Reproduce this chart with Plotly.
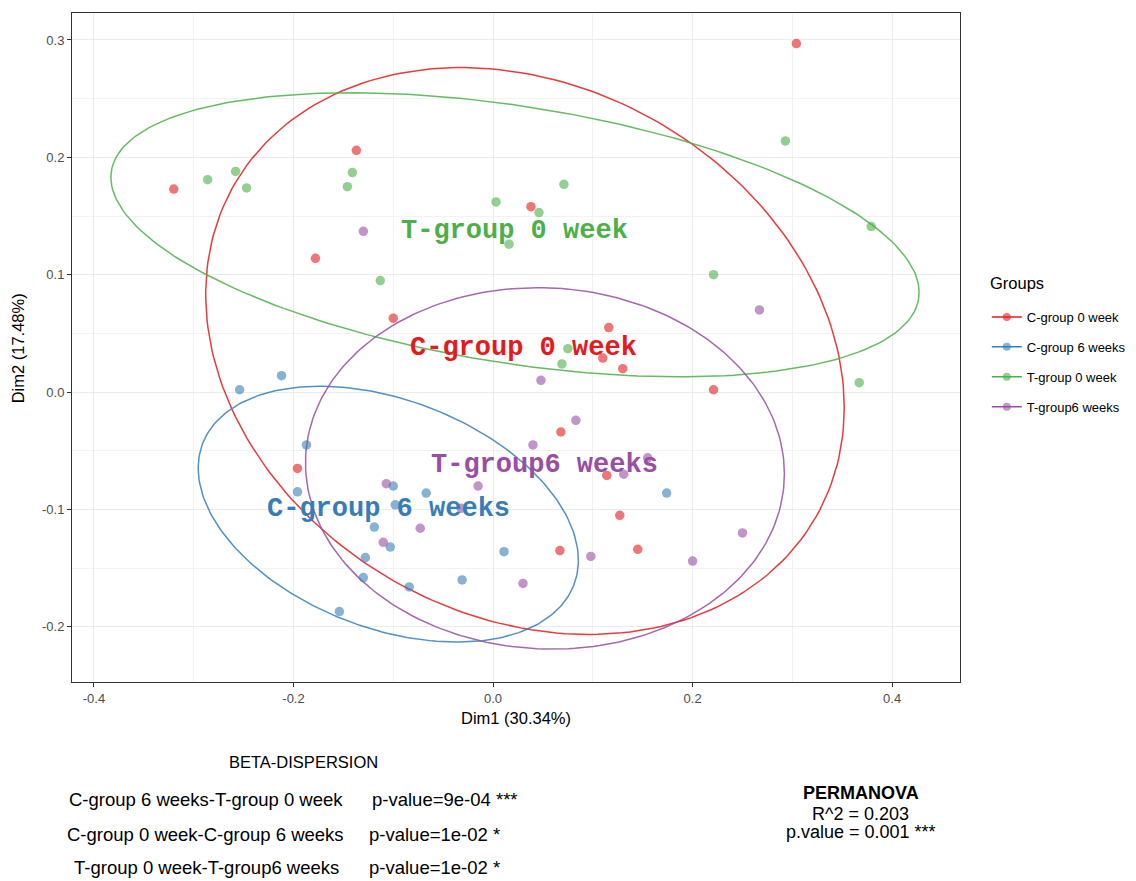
import numpy as np
import plotly.graph_objects as go

# ---------------- data ----------------
groups = ["C-group 0 week", "C-group 6 weeks", "T-group 0 week", "T-group6 weeks"]
colors = ["#E41A1C", "#377EB8", "#4DAF4A", "#984EA3"]

c0_x = [-0.320, -0.137, -0.178, -0.100, 0.038, 0.304, 0.116, 0.110, 0.130, 0.221,
        0.068, -0.196, 0.114, 0.127, 0.067, 0.145]
c0_y = [0.173, 0.206, 0.114, 0.063, 0.158, 0.297, 0.055, 0.029, 0.020, 0.002,
        -0.034, -0.065, -0.071, -0.105, -0.135, -0.134]

c6_x = [-0.254, -0.212, -0.187, -0.196, -0.100, -0.067, -0.098, -0.119, -0.103,
        -0.128, -0.130, -0.084, -0.154, -0.031, 0.011, 0.174]
c6_y = [0.002, 0.014, -0.045, -0.085, -0.080, -0.086, -0.096, -0.115, -0.132,
        -0.141, -0.158, -0.166, -0.187, -0.160, -0.136, -0.086]

t0_x = [-0.286, -0.258, -0.247, -0.141, -0.146, 0.003, 0.016, -0.113, 0.071, 0.046,
        0.293, 0.379, 0.221, 0.075, 0.069, 0.367]
t0_y = [0.181, 0.188, 0.174, 0.187, 0.175, 0.162, 0.126, 0.095, 0.177, 0.153,
        0.214, 0.141, 0.100, 0.037, 0.024, 0.008]

t6_x = [-0.130, 0.267, 0.048, 0.083, 0.040, 0.155, 0.131, 0.250, 0.098, 0.200,
        0.030, -0.107, -0.015, -0.032, -0.073, -0.110]
t6_y = [0.137, 0.070, 0.010, -0.024, -0.045, -0.056, -0.070, -0.120, -0.140, -0.144,
        -0.163, -0.078, -0.080, -0.099, -0.116, -0.128]

xs = [c0_x, c6_x, t0_x, t6_x]
ys = [c0_y, c6_y, t0_y, t6_y]

# ellipse parameters: centre, half-width, half-height, phase cosine
ell_cx = [0.032, -0.105, 0.022, 0.052]
ell_cy = [0.035, -0.104, 0.134, -0.065]
ell_rx = [0.320, 0.1905, 0.405, 0.240]
ell_ry = [0.2415, 0.109, 0.121, 0.154]
ell_c = [-0.20, -0.36, -0.405, -0.03]

# group label positions
lab_x = [0.031, -0.105, 0.021, 0.052]
lab_y = [0.038, -0.100, 0.137, -0.062]

x_ticks = [-0.4, -0.2, 0.0, 0.2, 0.4]
x_ticktext = ["-0.4", "-0.2", "0.0", "0.2", "0.4"]
y_ticks = [-0.2, -0.1, 0.0, 0.1, 0.2, 0.3]
y_ticktext = ["-0.2", "-0.1", "0.0", "0.1", "0.2", "0.3"]

beta_pairs = ["C-group 6 weeks-T-group 0 week", "C-group 0 week-C-group 6 weeks",
              "T-group 0 week-T-group6 weeks"]
beta_p = ["p-value=9e-04 ***", "p-value=1e-02 *", "p-value=1e-02 *"]
perm_lines = ["<b>PERMANOVA</b>", "R^2 = 0.203", "p.value = 0.001 ***"]

# ---------------- figure ----------------
OFF = 8  # page body margin
W, H = 1128, 873
L, R, T, B = 64, 958, 5, 674


def px(xs_):
    return (xs_ - OFF - L) / (R - L)


def py(ys_):
    return (B - (ys_ - OFF)) / (B - T)


fig = go.Figure()
tt = np.linspace(0, 2 * np.pi, 240)
for i, g in enumerate(groups):
    phi = np.arccos(ell_c[i])
    ex = ell_cx[i] + ell_rx[i] * np.cos(tt)
    ey = ell_cy[i] + ell_ry[i] * np.cos(tt - phi)
    fig.add_trace(go.Scatter(x=ex, y=ey, mode="lines", line=dict(color=colors[i], width=1.5),
                             opacity=0.85, showlegend=False, hoverinfo="skip"))
for i, g in enumerate(groups):
    fig.add_trace(go.Scatter(x=xs[i], y=ys[i], mode="markers", name=g, showlegend=False,
                             marker=dict(color=colors[i], size=9.5, opacity=0.6,
                                         line=dict(width=0))))
for i, g in enumerate(groups):
    fig.add_trace(go.Scatter(x=[None], y=[None], mode="lines+markers", name=g,
                             legendgroup=g,
                             line=dict(color=colors[i], width=1.5),
                             marker=dict(color=colors[i], size=8, opacity=0.6)))
    fig.add_annotation(x=lab_x[i], y=lab_y[i], text="<b>%s</b>" % g, showarrow=False,
                       font=dict(family="Liberation Mono", size=27, color=colors[i]))

ann = []
ann.append(dict(x=px(519), y=py(718), text="Dim1 (30.34%)", font=dict(size=16.5, color="black")))
ann.append(dict(x=px(18), y=py(348), text="Dim2 (17.48%)", textangle=-90,
                font=dict(size=16.5, color="black")))
ann.append(dict(x=px(305), y=py(762), text="BETA-DISPERSION", font=dict(size=16.5, color="black")))
row_y = [799, 834, 868]
left_c = [207, 206, 207]
right_c = [448, 437, 437]
for k in range(3):
    ann.append(dict(x=px(left_c[k]), y=py(row_y[k]), text=beta_pairs[k],
                    font=dict(size=18.5, color="black")))
    ann.append(dict(x=px(right_c[k]), y=py(row_y[k]), text=beta_p[k],
                    font=dict(size=18.5, color="black")))
perm_y = [793, 814, 832]
for k in range(3):
    ann.append(dict(x=px(866), y=py(perm_y[k]), text=perm_lines[k],
                    font=dict(size=18, color="black")))
ann.append(dict(x=px(994), y=py(283), text="Groups", xanchor="left",
                font=dict(size=16.5, color="black")))
for a in ann:
    a.setdefault("xanchor", "center")
    a.update(xref="paper", yref="paper", showarrow=False, yanchor="middle")
    fig.add_annotation(**a)

axis_common = dict(showline=True, mirror=True, linecolor="#333333", linewidth=1,
                   ticks="outside", ticklen=4, tickcolor="#333333",
                   tickfont=dict(size=13, color="#4D4D4D", family="Liberation Sans"),
                   showgrid=True, gridcolor="#EBEBEB", gridwidth=1, zeroline=False)
fig.update_xaxes(range=[-0.422, 0.468], tickmode="array", tickvals=x_ticks,
                 ticktext=x_ticktext,
                 minor=dict(tickmode="linear", tick0=0, dtick=0.1, showgrid=True,
                            gridcolor="#F2F2F2", gridwidth=0.6, ticks=""),
                 **axis_common)
fig.update_yaxes(range=[-0.247, 0.323], tickmode="array", tickvals=y_ticks,
                 ticktext=y_ticktext,
                 minor=dict(tickmode="linear", tick0=0, dtick=0.05, showgrid=True,
                            gridcolor="#F2F2F2", gridwidth=0.6, ticks=""),
                 **axis_common)

fig.update_layout(
    width=W, height=H,
    margin=dict(l=L, r=W - R, t=T, b=H - B),
    paper_bgcolor="white", plot_bgcolor="white",
    font=dict(family="Liberation Sans", color="black"),
    legend=dict(x=px(993), y=py(302), xanchor="left", yanchor="top",
                font=dict(size=13), tracegroupgap=10, itemwidth=30),
)

fig.write_html("out.html")
